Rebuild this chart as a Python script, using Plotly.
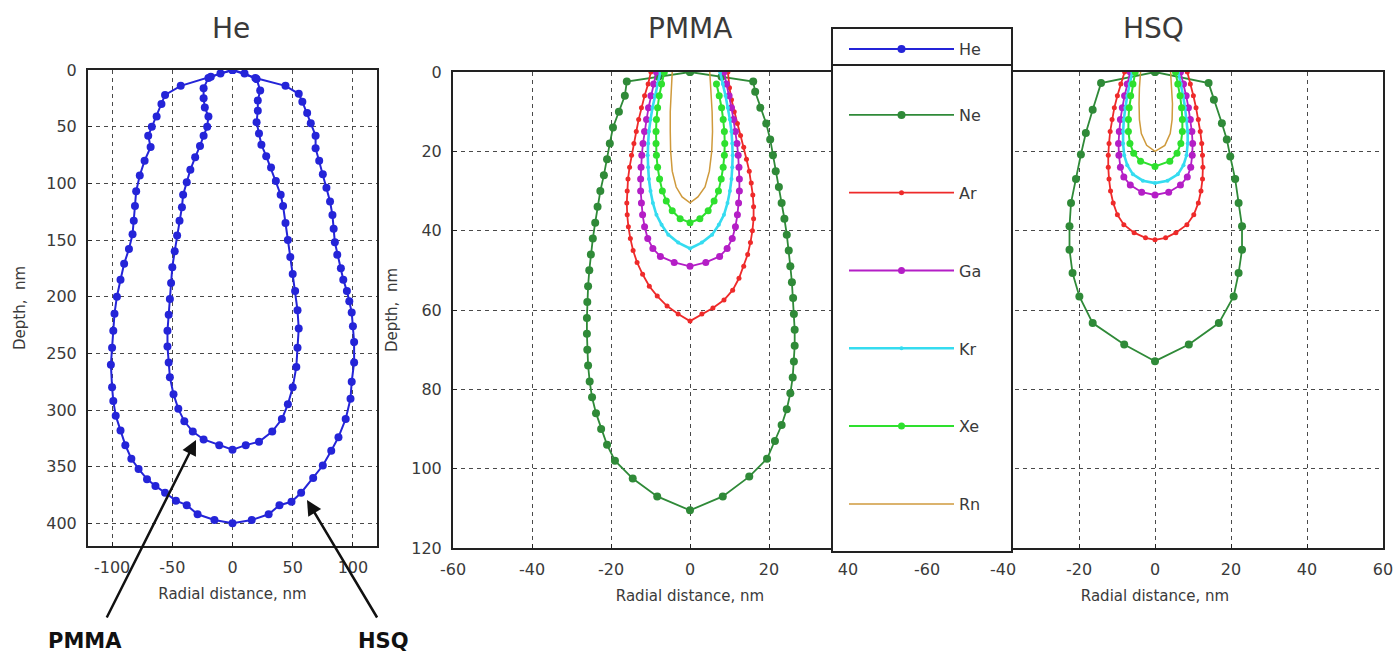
import plotly.graph_objects as go

W, H = 1399, 654

# ---------------- data: radial distance (nm) and depth (nm) ----------------
# He panel: PMMA (inner) and HSQ (outer) profiles
he_pmma_x = [0, -10, -20, -24, -24, -23, -20, -21, -24, -27, -31, -35, -38, -41, -42, -44, -46, -48, -50,
             -51, -52, -53, -54, -54, -53, -52, -49, -45, -40, -33, -24, -11, 0,
             11, 22, 33, 41, 46, 50, 53, 54, 55, 54, 52, 50, 48, 46, 44, 42, 40, 36, 32, 28, 24, 22,
             20, 21, 21, 23, 20, 10, 0]
he_pmma_y = [0, 3, 7, 16, 25, 33, 41, 50, 58, 67, 77, 88, 99, 110, 121, 133, 146, 160, 174,
             188, 202, 216, 230, 244, 258, 271, 286, 299, 310, 319, 326, 331, 335,
             331, 328, 319, 308, 295, 280, 262, 245, 228, 212, 195, 180, 165, 150, 135, 120, 110, 98, 86, 76, 66, 56,
             46, 36, 27, 18, 8, 3, 0]
he_hsq_x = [0, -18, -43, -56, -59, -63, -67, -70, -68, -73, -77, -80, -81, -82, -83, -86, -90, -93, -96,
            -98, -99, -100, -101, -100, -99, -97, -93, -89, -84, -78, -71, -64, -56, -47, -38, -29, -15, 0,
            16, 30, 39, 49, 57, 67, 75, 82, 88, 94, 98, 99, 101, 101, 100, 99, 97, 95, 92, 90, 87, 85,
            84, 83, 81, 78, 75, 72, 69, 69, 65, 62, 58, 55, 44, 19, 0]
he_hsq_y = [0, 6, 14, 22, 30, 41, 50, 58, 68, 80, 93, 107, 120, 133, 145, 158, 171, 185, 200,
            215, 230, 245, 260, 280, 292, 305, 318, 331, 343, 352, 361, 367, 373, 380, 384, 392, 397, 400,
            397, 392, 384, 381, 373, 360, 349, 336, 324, 308, 290, 275, 258, 240, 226, 214, 204, 195, 185, 175, 163, 152,
            140, 128, 116, 104, 92, 80, 69, 58, 47, 38, 28, 21, 14, 7, 0]

# PMMA panel
pmma_ne_x = [0, -8, -16, -16.5, -18, -19.5, -20.3, -21, -21.8, -22.7, -23.4, -24, -24.6, -25.1, -25.5, -25.8,
             -26, -26.1, -26.1, -26, -25.8, -25.4, -24.8, -23.8, -22.5, -21, -19, -14.5, -8.3, 0,
             8.3, 15, 19.5, 21.5, 23.2, 24.5, 25.4, 26, 26.3, 26.5, 26.5, 26.3, 26.1, 25.8, 25.4, 25,
             24.5, 23.9, 23.2, 22.5, 21.7, 21, 20.3, 19.3, 17.8, 16.5, 16, 8, 0]
pmma_ne_y = [0, 1.2, 2.4, 6, 10, 14, 18, 22, 26, 30, 34, 38, 42, 46, 50, 54,
             58, 62, 66, 70, 74, 78, 82, 86, 90, 94, 98, 102.5, 107, 110.5,
             107, 102, 97.5, 93, 89, 85, 81, 77, 73, 69, 65, 61, 57, 53, 49, 45,
             41, 37, 33, 29, 25, 21, 17, 13, 9, 5, 2.4, 1.2, 0]
pmma_ar_x = [-9.9, -10.6, -11.5, -12.3, -13, -13.6, -14.2, -14.8, -15.3, -15.7, -15.9, -16, -15.9, -15.6,
             -15.1, -14.4, -13.4, -12, -10.3, -8.3, -5.8, -3, 0,
             3, 5.8, 8.6, 10.8, 12.4, 13.6, 14.6, 15.3, 15.8, 16.1, 16.1, 15.9, 15.5, 15, 14.3, 13.6,
             12.8, 12, 11.2, 10.5, 10, 9.6]
pmma_ar_y = [0, 3, 6, 9, 12, 15, 18, 21, 24, 27, 30, 33, 36, 39,
             42, 45, 48, 51, 54, 56.5, 59, 61, 62.8,
             61, 59.5, 57.5, 55, 52, 49, 46, 43, 40, 37, 34, 31, 28, 25, 22, 19,
             16, 13, 10, 7, 4, 0]
pmma_ga_x = [-8.5, -9.2, -9.9, -10.5, -11, -11.5, -11.9, -12.2, -12.4, -12.5, -12.5, -12.3, -12, -11.5,
             -10.7, -9.4, -7.5, -4, 0, 4, 7.5, 9.4, 10.7, 11.5, 12, 12.3, 12.5, 12.5, 12.4, 12.2, 11.9,
             11.5, 11, 10.5, 9.9, 9.2, 8.6]
pmma_ga_y = [0, 3, 6, 9, 12, 15, 18, 21, 24, 27, 30, 33, 36, 39,
             42, 44.5, 46.5, 48, 49, 48, 46.5, 44.5, 42, 39, 36, 33, 30, 27, 24, 21, 18,
             15, 12, 9, 6, 3, 0]
pmma_kr_x = [-7.5, -8.2, -8.9, -9.5, -10, -10.4, -10.6, -10.7, -10.6, -10.4, -10, -9.4, -8.5, -7.2, -5.5,
             -3, 0, 3, 5.6, 7.3, 8.6, 9.5, 10.1, 10.5, 10.7, 10.8, 10.7, 10.5, 10.1, 9.6, 9, 8.3, 7.6]
pmma_kr_y = [0, 3, 6, 9, 12, 15, 18, 21, 24, 27, 30, 33, 36, 38.5, 41,
             43, 44.5, 43, 41, 38.5, 36, 33, 30, 27, 24, 21, 18, 15, 12, 9, 6, 3, 0]
pmma_xe_x = [-6.5, -7.2, -7.8, -8.2, -8.5, -8.6, -8.6, -8.5, -8.2, -7.7, -7, -6, -4.5, -2.5, 0,
             2.5, 4.6, 6.1, 7.2, 7.9, 8.4, 8.7, 8.8, 8.7, 8.4, 8, 7.4, 6.7]
pmma_xe_y = [0, 3, 6, 9, 12, 15, 18, 21, 24, 27, 30, 32.5, 35, 37, 38,
             37, 35, 32.5, 30, 27, 24, 21, 18, 15, 12, 9, 6, 3, 0]
pmma_rn_x = [-4.5, -4.8, -5, -5, -4.9, -4.5, -3.5, -2, 0, 2, 3.8, 4.9, 5.5, 5.7, 5.6, 5.3, 5]
pmma_rn_y = [0, 5, 10, 15, 20, 25, 29, 31.5, 33, 31.5, 29, 25, 20, 15, 10, 5, 0]

# HSQ panel
hsq_ne_x = [0, -14.2, -16.4, -18.2, -19.5, -20.8, -22.1, -22.5, -22.5, -21.7, -19.9, -16.4, -8.1, 0,
            8.9, 16.8, 20.7, 22, 22.9, 22.9, 22, 21.1, 19.8, 18.9, 17.6, 15.5, 14.1, 0]
hsq_ne_y = [0, 2.8, 9.5, 15.4, 20.8, 27, 33, 38.9, 44.8, 50.7, 56.6, 63.3, 68.7, 72.9,
            68.7, 63.3, 56.6, 50.7, 44.8, 38.9, 33, 27, 21.3, 17, 12.9, 7, 2.8, 0]
hsq_ar_x = [-8, -9, -9.9, -10.7, -11.3, -11.8, -12.1, -12.3, -12.3, -12.1, -11.7, -11, -9.9, -8.2, -5.5,
            -2.5, 0, 2.8, 5.5, 8.4, 10.2, 11.4, 12.1, 12.5, 12.6, 12.5, 12.3, 11.9, 11.4, 10.8, 10.1, 9.3, 8.5]
hsq_ar_y = [0, 3, 6, 9, 12, 15, 18, 21, 24, 27, 30, 33, 36, 38.5, 40.5,
            41.8, 42.3, 41.8, 40.5, 38.5, 36, 33, 30, 27, 24, 21, 18, 15, 12, 9, 6, 3, 0]
hsq_ga_x = [-6.5, -7.3, -8, -8.6, -9.1, -9.4, -9.6, -9.5, -9.1, -8.2, -6.5, -3.5, 0,
            3.6, 6.7, 8.5, 9.4, 9.8, 9.9, 9.7, 9.3, 8.8, 8.2, 7.5, 6.7]
hsq_ga_y = [0, 3, 6, 9, 12, 15, 18, 21, 24, 26.5, 28.5, 30.3, 31,
            30.3, 28.5, 26.5, 24, 21, 18, 15, 12, 9, 6, 3, 0]
hsq_kr_x = [-6, -6.7, -7.3, -7.8, -8.2, -8.4, -8.4, -8.1, -7.3, -5.8, -3.2, 0,
            3.3, 6, 7.5, 8.3, 8.6, 8.6, 8.3, 7.9, 7.4, 6.8, 6.1]
hsq_kr_y = [0, 3, 6, 9, 12, 15, 18, 21, 23.5, 25.8, 27.4, 28,
            27.4, 25.8, 23.5, 21, 18, 15, 12, 9, 6, 3, 0]
hsq_xe_x = [-5.2, -5.8, -6.4, -6.8, -7, -7, -6.6, -5.6, -3.8, 0, 3.9, 5.8, 6.8, 7.2, 7.2, 7, 6.6, 6, 5.4]
hsq_xe_y = [0, 3, 6, 9, 12, 15, 18, 20.5, 22.5, 23.8, 22.5, 20.5, 18, 15, 12, 9, 6, 3, 0]
hsq_rn_x = [-3.8, -4.1, -4.2, -4.1, -3.6, -2.2, 0, 2.6, 4, 4.5, 4.6, 4.4, 4.1]
hsq_rn_y = [0, 4, 8, 12, 15.5, 18.5, 20, 18.5, 15.5, 12, 8, 4, 0]

# tick values / labels
he_xticks = [-100, -50, 0, 50, 100]
he_xlabels = ["-100", "-50", "0", "50", "100"]
he_yticks = [0, 50, 100, 150, 200, 250, 300, 350, 400]
pmma_xticks = [-60, -40, -20, 0, 20, 40]
pmma_xlabels = ["-60", "-40", "-20", "0", "20", "40"]
hsq_xticks = [-60, -40, -20, 0, 20, 40, 60]
hsq_xlabels = ["-60", "-40", "-20", "0", "20", "40", "60"]
depth_ticks = [0, 20, 40, 60, 80, 100, 120]

# ---------------- styling ----------------
FONT = "DejaVu Sans"
TXT = "#3a3a3a"
GRID = "#4a4a4a"

colors = {"He": "#2424d8", "Ne": "#2f8a38", "Ar": "#ee2a2a", "Ga": "#b41ec6",
          "Kr": "#35dcf0", "Xe": "#2ee02e", "Rn": "#cf9a3c"}
msize = {"He": 8, "Ne": 8, "Ar": 5, "Ga": 7, "Kr": 4, "Xe": 7, "Rn": 0}
lwidth = {"He": 2, "Ne": 1.8, "Ar": 1.8, "Ga": 1.8, "Kr": 2.6, "Xe": 2, "Rn": 1.5}


def fx(px):
    return px / W


def fy(py):
    return 1 - py / H


fig = go.Figure()


def add(name, x, y, xa, ya, show, legend):
    mode = "lines+markers" if msize[name] > 0 else "lines"
    fig.add_trace(go.Scatter(
        x=x, y=y, name=name, mode=mode, xaxis=xa, yaxis=ya,
        line=dict(color=colors[name], width=lwidth[name]),
        marker=dict(color=colors[name], size=msize[name] if msize[name] else 1),
        legendgroup=name, showlegend=show, legend=legend))


add("He", he_pmma_x, he_pmma_y, "x", "y", True, "legend")
add("He", he_hsq_x, he_hsq_y, "x", "y", False, "legend")

pmma = {"Ne": (pmma_ne_x, pmma_ne_y), "Ar": (pmma_ar_x, pmma_ar_y), "Ga": (pmma_ga_x, pmma_ga_y),
        "Kr": (pmma_kr_x, pmma_kr_y), "Xe": (pmma_xe_x, pmma_xe_y), "Rn": (pmma_rn_x, pmma_rn_y)}
hsq = {"Ne": (hsq_ne_x, hsq_ne_y), "Ar": (hsq_ar_x, hsq_ar_y), "Ga": (hsq_ga_x, hsq_ga_y),
       "Kr": (hsq_kr_x, hsq_kr_y), "Xe": (hsq_xe_x, hsq_xe_y), "Rn": (hsq_rn_x, hsq_rn_y)}
for nm, (x, y) in pmma.items():
    add(nm, x, y, "x2", "y2", True, "legend2")
for nm, (x, y) in hsq.items():
    add(nm, x, y, "x3", "y3", False, "legend2")

axis_common = dict(showgrid=True, gridcolor=GRID, griddash="4px,4px", gridwidth=1,
                   showline=True, mirror=True, linecolor="#222", linewidth=2,
                   ticks="inside", ticklen=4, tickcolor="#222", zeroline=False, automargin=False,
                   tickfont=dict(family=FONT, size=16, color=TXT), ticklabelstandoff=6)
title_font = dict(family=FONT, size=15, color=TXT)

fig.update_layout(
    width=W, height=H, margin=dict(l=0, r=0, t=0, b=0, autoexpand=False),
    paper_bgcolor="white", plot_bgcolor="white",
    xaxis=dict(domain=[fx(88), fx(377)], range=[-120, 120], anchor="y",
               tickvals=he_xticks, ticktext=he_xlabels,
               title=dict(text="Radial distance, nm", font=title_font, standoff=12), **axis_common),
    yaxis=dict(domain=[fy(546), fy(70)], range=[420, 0], anchor="x",
               tickvals=he_yticks,
               title=dict(text="Depth,  nm", font=title_font, standoff=17), **axis_common),
    xaxis2=dict(domain=[fx(453), fx(927)], range=[-60, 60], anchor="y2",
                tickvals=pmma_xticks, ticktext=pmma_xlabels,
                title=dict(text="Radial distance, nm", font=title_font, standoff=12), **axis_common),
    yaxis2=dict(domain=[fy(548), fy(72)], range=[120, 0], anchor="x2",
                tickvals=depth_ticks,
                title=dict(text="Depth,  nm", font=title_font, standoff=10), **axis_common),
    xaxis3=dict(domain=[fx(927), fx(1383)], range=[-60, 60], anchor="y3",
                tickvals=hsq_xticks, ticktext=hsq_xlabels,
                title=dict(text="Radial distance, nm", font=title_font, standoff=12), **axis_common),
    yaxis3=dict(domain=[fy(548), fy(72)], range=[120, 0], anchor="x3",
                tickvals=depth_ticks, showticklabels=False, **axis_common),
    legend=dict(x=fx(844), y=fy(32), xanchor="left", yanchor="top",
                bgcolor="rgba(0,0,0,0)", borderwidth=0, itemwidth=105,
                font=dict(family=FONT, size=16, color=TXT)),
    legend2=dict(x=fx(844), y=fy(98), xanchor="left", yanchor="top",
                 bgcolor="rgba(0,0,0,0)", borderwidth=0, itemwidth=105,
                 traceorder="grouped", tracegroupgap=54,
                 font=dict(family=FONT, size=16, color=TXT)),
    showlegend=True,
)

# legend frames
fig.add_shape(type="rect", xref="paper", yref="paper", x0=fx(832), x1=fx(1012), y0=fy(552), y1=fy(65),
              fillcolor="white", line=dict(color="#222", width=2), layer="above")
fig.add_shape(type="rect", xref="paper", yref="paper", x0=fx(832), x1=fx(1012), y0=fy(65), y1=fy(28),
              fillcolor="white", line=dict(color="#222", width=2), layer="above")

# panel titles
for txt, px in [("He", 231), ("PMMA", 690), ("HSQ", 1153)]:
    fig.add_annotation(text=txt, x=fx(px), y=fy(28), xref="paper", yref="paper",
                       showarrow=False, xanchor="center", yanchor="middle",
                       font=dict(family=FONT, size=28, color=TXT))

# arrows with labels in the He panel
fig.add_annotation(text="<b>PMMA</b>", x=fx(85), y=fy(641), xref="paper", yref="paper",
                   xanchor="center", yanchor="middle",
                   showarrow=False, font=dict(family=FONT, size=21, color="#111"))
fig.add_annotation(text="<b>HSQ</b>", x=fx(383), y=fy(641), xref="paper", yref="paper",
                   xanchor="center", yanchor="middle",
                   showarrow=False, font=dict(family=FONT, size=21, color="#111"))
fig.add_annotation(x=fx(196), y=fy(440), ax=-90, ay=179, xref="paper", yref="paper",
                   axref="pixel", ayref="pixel", text="", showarrow=True,
                   arrowhead=2, arrowsize=1.2, arrowwidth=2.5, arrowcolor="#111")
fig.add_annotation(x=fx(307), y=fy(500), ax=71, ay=119, xref="paper", yref="paper",
                   axref="pixel", ayref="pixel", text="", showarrow=True,
                   arrowhead=2, arrowsize=1.2, arrowwidth=2.5, arrowcolor="#111")

fig.write_html("out.html")
